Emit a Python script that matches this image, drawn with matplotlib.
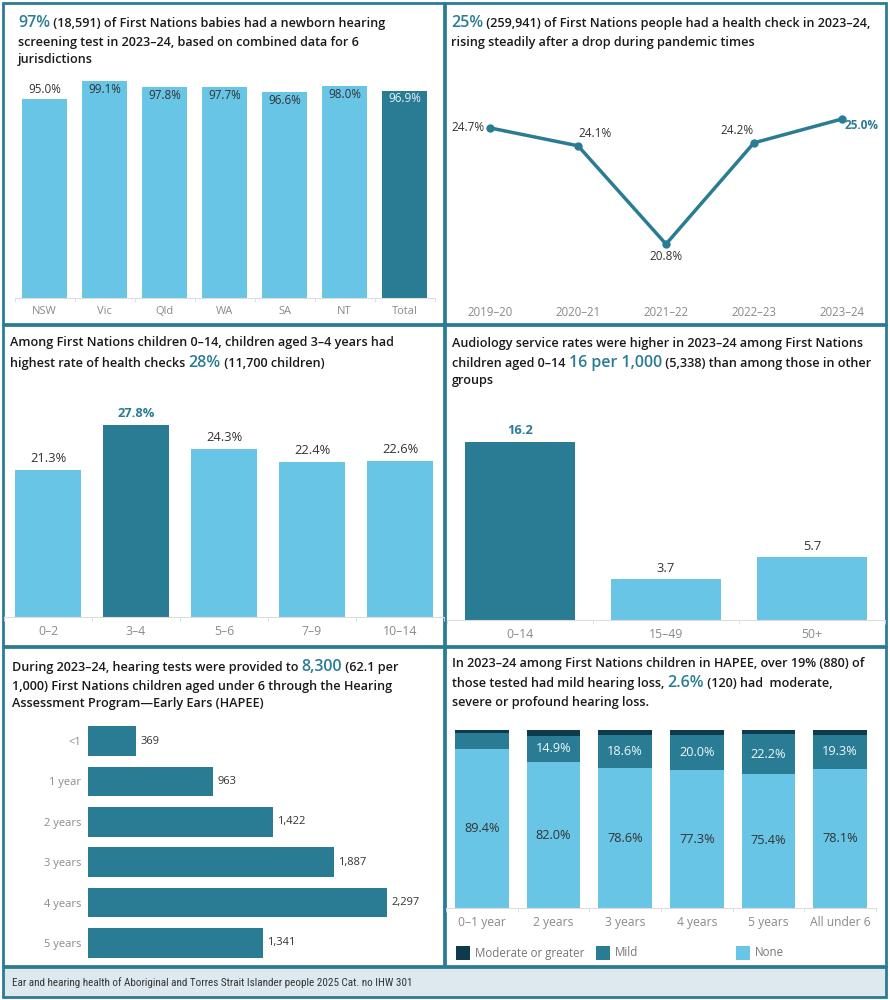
import matplotlib
matplotlib.use('Agg')
import matplotlib.pyplot as plt
from matplotlib.patches import Rectangle

plt.rcParams['font.family'] = ['Open Sans', 'DejaVu Sans']

W, H = 890, 1000
LIGHT = '#68c5e6'
TEAL = '#2a7c94'
DARK = '#0d3b4b'
GREY = '#8a8a8a'
TXT = '#333333'
AXLINE = '#dddddd'

# panel 1: newborn hearing screening
jur = ['NSW', 'Vic', 'Qld', 'WA', 'SA', 'NT', 'Total']
screen_pct = [95.0, 99.1, 97.8, 97.7, 96.6, 98.0, 96.9]

# panel 2: health checks over time
years = ['2019–20', '2020–21', '2021–22', '2022–23', '2023–24']
check_pct = [24.7, 24.1, 20.8, 24.2, 25.0]

# panel 3: health checks by child age
child_age = ['0–2', '3–4', '5–6', '7–9', '10–14']
child_pct = [21.3, 27.8, 24.3, 22.4, 22.6]

# panel 4: audiology service rates per 1,000
aud_age = ['0–14', '15–49', '50+']
aud_rate = [16.2, 3.7, 5.7]

# panel 5: HAPEE hearing tests
hapee_age = ['<1', '1 year', '2 years', '3 years', '4 years', '5 years']
hapee_n = [369, 963, 1422, 1887, 2297, 1341]

# panel 6: hearing loss among tested children
loss_age = ['0–1 year', '2 years', '3 years', '4 years', '5 years', 'All under 6']
none_pct = [89.4, 82.0, 78.6, 77.3, 75.4, 78.1]
mild_pct = [9.0, 14.9, 18.6, 20.0, 22.2, 19.3]
mod_pct = [1.6, 3.1, 2.8, 2.7, 2.4, 2.6]

fig = plt.figure(figsize=(W / 100, H / 100), dpi=100)
renderer = fig.canvas.get_renderer()


def fx(x):
    return x / W


def fy(y):
    return 1 - y / H


def axes_px(x0, y0, x1, y1):
    a = fig.add_axes([fx(x0), fy(y1), (x1 - x0) / W, (y1 - y0) / H])
    a.set_facecolor('none')
    return a


def rich_line(x, y, pieces):
    for text, size, color in pieces:
        t = fig.text(fx(x), fy(y), text, fontsize=size, color=color,
                     weight='semibold', va='baseline', ha='left')
        x += t.get_window_extent(renderer).width


def title(x, ys, lines):
    for y, line in zip(ys, lines):
        pieces = []
        for p in line:
            if isinstance(p, tuple):
                pieces.append((p[0], 11.5, TEAL))
            else:
                pieces.append((p, 9.1, '#1a1a1a'))
        rich_line(x, y, pieces)


def cat_axis(ax, labels, size=8):
    n = len(labels)
    ax.set_xticks(range(n))
    ax.set_xticklabels(labels, color=GREY, fontsize=size)
    ax.tick_params(axis='x', length=0, pad=6)
    ax.set_xticks([i + 0.5 for i in range(-1, n)], minor=True)
    ax.tick_params(axis='x', which='minor', length=3, color=AXLINE)
    for s in ['top', 'right', 'left']:
        ax.spines[s].set_visible(False)
    ax.spines['bottom'].set_color(AXLINE)
    ax.set_yticks([])
    ax.set_xlim(-0.5, n - 0.5)


# frames
def frame(x0, y0, x1, y1, fc='white'):
    fig.add_artist(Rectangle((fx(x0), fy(y1)), (x1 - x0) / W, (y1 - y0) / H,
                             transform=fig.transFigure, fc=fc, ec=TEAL, lw=2, zorder=-5))


frame(3, 3, 444, 324)
frame(445, 3, 886, 324)
frame(3, 325, 444, 646)
frame(445, 325, 886, 646)
frame(3, 647, 444, 966)
frame(445, 647, 886, 966)
frame(3, 967, 886, 997, fc='#dde9ef')
fig.text(fx(12), fy(983), 'Ear and hearing health of Aboriginal and Torres Strait Islander people 2025 Cat. no IHW 301',
         fontsize=8, color=TXT, va='center', fontstretch='condensed',
         family=['Roboto Condensed', 'Noto Sans Condensed', 'Liberation Sans Narrow', 'DejaVu Sans'])

# panel 1
title(18, [27, 46, 63], [
    [('97%',), ' (18,591) of First Nations babies had a newborn hearing'],
    ['screening test in 2023–24, based on combined data for 6'],
    ['jurisdictions']])
ax = axes_px(14.5, 70, 434.5, 298)
cols = [LIGHT] * (len(jur) - 1) + [TEAL]
ax.bar(range(len(jur)), screen_pct, width=0.75, color=cols)
ax.set_ylim(49.7, 101.6)
cat_axis(ax, jur)
for i, v in enumerate(screen_pct):
    inside = v > 95.5
    ax.annotate(f'{v:.1f}%', (i, v), xytext=(0, -6 if inside else 7), textcoords='offset points',
                ha='center', va='center', fontsize=8.4,
                color='#e6f4f8' if jur[i] == 'Total' else TXT)

# panel 2
title(451, [27, 46], [
    [('25%',), ' (259,941) of First Nations people had a health check in 2023–24,'],
    ['rising steadily after a drop during pandemic times']])
ax = axes_px(446, 60, 886, 298)
ax.plot(range(len(years)), check_pct, color=TEAL, lw=2.5, marker='o', ms=5)
ax.set_ylim(18.99, 26.98)
cat_axis(ax, years, 8.3)
ax.spines['bottom'].set_visible(False)
ax.tick_params(axis='x', which='minor', length=0)
offs = [(-4, 0, 'right'), (12, 9, 'center'), (0, -9, 'center'), (-12, 9, 'center'), (14, -5, 'center')]
for i, v in enumerate(check_pct):
    dx, dy, ha = offs[i]
    last = i == len(check_pct) - 1
    ax.annotate(f'{v:.1f}%', (i, v), xytext=(dx, dy), textcoords='offset points',
                ha=ha, va='center', fontsize=8.5, color=TEAL if last else TXT,
                weight='bold' if last else 'normal')

# panel 3
title(10, [346, 367], [
    ['Among First Nations children 0–14, children aged 3–4 years had'],
    ['highest rate of health checks ', ('28%',), ' (11,700 children)']])
ax = axes_px(4, 395, 444, 617)
top = max(child_pct)
ax.bar(range(len(child_age)), child_pct, width=0.75,
       color=[TEAL if v == top else LIGHT for v in child_pct])
ax.set_ylim(0, 32.1)
cat_axis(ax, child_age, 8.8)
for i, v in enumerate(child_pct):
    ax.annotate(f'{v:.1f}%', (i, v), xytext=(0, 8), textcoords='offset points',
                ha='center', va='center', fontsize=9.3,
                color=TEAL if v == top else TXT, weight='bold' if v == top else 'normal')

# panel 4
title(452, [347, 367, 384], [
    ['Audiology service rates were higher in 2023–24 among First Nations'],
    ['children aged 0–14 ', ('16 per 1,000',), ' (5,338) than among those in other'],
    ['groups']])
ax = axes_px(447, 400, 885, 620)
ax.bar(range(len(aud_age)), aud_rate, width=0.75,
       color=[TEAL] + [LIGHT] * (len(aud_age) - 1))
ax.set_ylim(0, 20.0)
cat_axis(ax, aud_age, 8.8)
for i, v in enumerate(aud_rate):
    ax.annotate(f'{v:.1f}', (i, v), xytext=(0, 8), textcoords='offset points',
                ha='center', va='center', fontsize=9.3,
                color=TEAL if i == 0 else TXT, weight='bold' if i == 0 else 'normal')

# panel 5
title(12, [671, 690, 707], [
    ['During 2023–24, hearing tests were provided to ', ('8,300',), ' (62.1 per'],
    ['1,000) First Nations children aged under 6 through the Hearing'],
    ['Assessment Program—Early Ears (HAPEE)']])
ax = axes_px(88, 721, 440, 963)
ax.barh(range(len(hapee_age)), hapee_n, height=0.74, color=TEAL)
ax.set_ylim(len(hapee_age) - 0.5, -0.5)
ax.set_xlim(0, 2704)
ax.set_yticks(range(len(hapee_age)))
ax.set_yticklabels(hapee_age, color=GREY, fontsize=8)
ax.tick_params(axis='y', length=0, pad=5)
ax.set_xticks([])
for s in ax.spines.values():
    s.set_visible(False)
for i, v in enumerate(hapee_n):
    ax.annotate(f'{v:,}', (v, i), xytext=(3, 0), textcoords='offset points',
                ha='left', va='center', fontsize=8, color=TXT)

# panel 6
title(452, [667, 687, 706], [
    ['In 2023–24 among First Nations children in HAPEE, over 19% (880) of'],
    ['those tested had mild hearing loss, ', ('2.6%',), ' (120) had  moderate,'],
    ['severe or profound hearing loss.']])
ax = axes_px(446, 730, 876, 908)
x = range(len(loss_age))
ax.bar(x, none_pct, width=0.75, color=LIGHT)
ax.bar(x, mild_pct, width=0.75, bottom=none_pct, color=TEAL)
ax.bar(x, mod_pct, width=0.75, bottom=[a + b for a, b in zip(none_pct, mild_pct)], color=DARK)
ax.set_ylim(0, 100)
cat_axis(ax, loss_age, 8.7)
for i in x:
    ax.text(i, none_pct[i] / 2, f'{none_pct[i]:.1f}%', ha='center', va='center',
            fontsize=9.2, color=TXT)
    if mild_pct[i] >= 10:
        ax.text(i, none_pct[i] + mild_pct[i] / 2, f'{mild_pct[i]:.1f}%', ha='center',
                va='center', fontsize=9.2, color='#eef7fa')
for lx, lab, c in [(456, 'Moderate or greater', DARK), (596, 'Mild', TEAL), (736, 'None', LIGHT)]:
    fig.add_artist(Rectangle((fx(lx), fy(960)), 14 / W, 14 / H, transform=fig.transFigure,
                             fc=c, ec='none'))
    fig.text(fx(lx + 19), fy(953), lab, fontsize=8.3, color='#777777', va='center')

fig.savefig('out.png', dpi=100)
